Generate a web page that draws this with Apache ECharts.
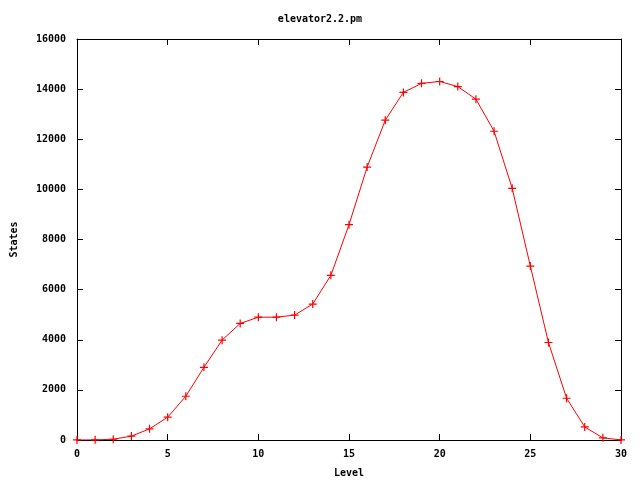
<!DOCTYPE html>
<html><head><meta charset="utf-8">
<script src="https://cdn.jsdelivr.net/npm/echarts@6/dist/echarts.min.js"></script>
<style>html,body{margin:0;padding:0;background:#fff}#c{width:640px;height:480px}</style>
</head><body><div id="c"></div>
<script>
const levels = [0,1,2,3,4,5,6,7,8,9,10,11,12,13,14,15,16,17,18,19,20,21,22,23,24,25,26,27,28,29,30];
const states = [1,5,30,155,445,910,1745,2900,3985,4650,4900,4900,4985,5425,6570,8590,10890,12760,13870,14230,14305,14100,13600,12320,10040,6940,3890,1665,520,85,2];
const xTicks = [0,5,10,15,20,25,30];
const yTicks = [0,2000,4000,6000,8000,10000,12000,14000,16000];
const titleText = 'elevator2.2.pm';
const xName = 'Level';
const yName = 'States';

const FONT = 'DejaVu Sans Mono';
const lab = {fontFamily: FONT, fontWeight: 'bold', fontSize: 10, color: '#000'};
const chart = echarts.init(document.getElementById('c'), null, {renderer: 'canvas'});
const axLine = {show: true, onZero: false, lineStyle: {color: '#000', width: 1}};
const axTick = {show: true, inside: true, length: 6, lineStyle: {color: '#000', width: 1}};
chart.setOption({
  animation: false,
  backgroundColor: '#fff',
  title: {text: titleText, left: 'center', top: 9, textStyle: Object.assign({}, lab)},
  grid: {left: 77, right: 19, top: 39, bottom: 40, containLabel: false, outerBoundsMode: 'none'},
  xAxis: [
    {type: 'value', min: xTicks[0], max: xTicks[xTicks.length-1], interval: xTicks[1]-xTicks[0],
     name: xName, nameLocation: 'middle', nameGap: 28, nameTextStyle: lab,
     axisLine: axLine, axisTick: axTick, splitLine: {show: false},
     axisLabel: Object.assign({margin: 9, formatter: v => String(v)}, lab)},
    {type: 'value', position: 'top', min: xTicks[0], max: xTicks[xTicks.length-1], interval: xTicks[1]-xTicks[0],
     axisLine: axLine, axisTick: axTick, splitLine: {show: false}, axisLabel: {show: false}}
  ],
  yAxis: [
    {type: 'value', min: yTicks[0], max: yTicks[yTicks.length-1], interval: yTicks[1]-yTicks[0],
     name: yName, nameLocation: 'middle', nameGap: 58, nameTextStyle: lab,
     axisLine: axLine, axisTick: axTick, splitLine: {show: false},
     axisLabel: Object.assign({margin: 11, formatter: v => String(v)}, lab)},
    {type: 'value', position: 'right', min: yTicks[0], max: yTicks[yTicks.length-1], interval: yTicks[1]-yTicks[0],
     axisLine: axLine, axisTick: axTick, splitLine: {show: false}, axisLabel: {show: false}}
  ],
  series: [{
    type: 'line',
    data: levels.map((l, i) => [l, states[i]]),
    lineStyle: {color: '#ff0000', width: 1},
    symbol: 'path://M0,5L10,5M5,0L5,10',
    symbolSize: 8,
    showAllSymbol: true,
    itemStyle: {color: 'rgba(0,0,0,0)', borderColor: '#ff0000', borderWidth: 1.2},
    emphasis: {disabled: true}
  }]
});
</script></body></html>
